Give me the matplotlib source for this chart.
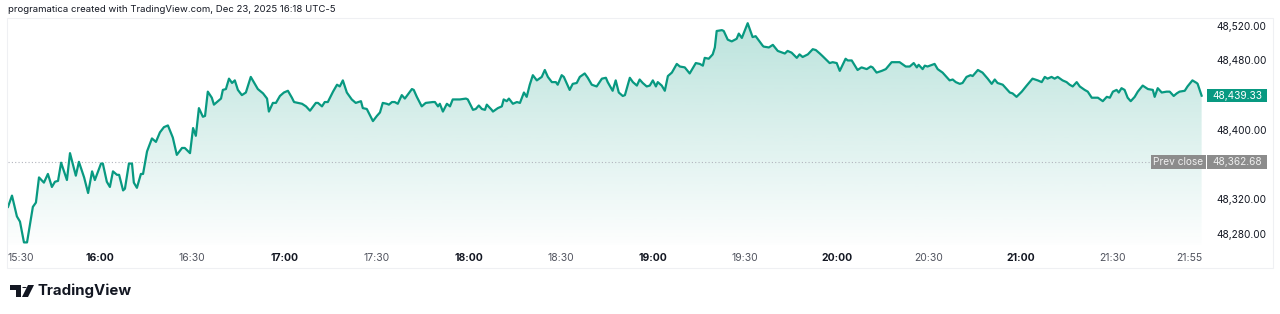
import numpy as np
import matplotlib.pyplot as plt
from matplotlib.patches import Rectangle, Polygon, Circle

plt.rcParams['font.family'] = ['Inter', 'DejaVu Sans']

# minutes after 15:30 and index level
minutes = [
    0, 1.3, 2.9, 3.9, 5.2, 6.2, 8.1, 9.1, 10.1, 11.7, 13.0, 14.3, 15.3, 16.3, 17.3, 19.2, 20.2, 22.1, 23.1, 24.8,
    26.1, 27.4, 28.3, 30.3, 30.9, 32.2, 33.2, 34.2, 35.5, 36.2, 37.5, 38.1, 39.4, 40.4, 41.0, 42.0, 43.3, 44.0, 45.3, 46.9,
    48.2, 49.5, 50.8, 52.1, 53.7, 55.0, 56.7, 57.6, 59.3, 60.3, 61.2, 62.2, 63.5, 64.2, 65.1, 66.4, 67.1, 68.4, 69.4, 70.0,
    71.0, 72.0, 73.0, 73.9, 74.9, 76.2, 77.5, 79.1, 80.1, 81.4, 83.1, 84.4, 85.0, 86.3, 87.3, 88.6, 89.9, 91.2, 92.5, 93.2,
    94.5, 95.8, 97.1, 98.4, 100.3, 101.0, 102.3, 103.2, 104.2, 105.9, 107.2, 108.1, 109.1, 110.4, 112.0, 113.3, 115.0, 115.6, 116.9, 118.9,
    120.2, 121.2, 122.1, 123.4, 124.1, 125.1, 126.0, 127.0, 128.3, 129.3, 131.6, 132.2, 133.2, 134.8, 136.1, 138.4, 139.1, 140.1, 140.7, 141.7,
    143.0, 144.0, 144.9, 147.2, 149.2, 149.8, 151.5, 152.4, 153.4, 154.4, 155.4, 156.0, 157.6, 158.0, 159.6, 160.9, 161.5, 162.5, 163.2, 164.5,
    165.8, 166.8, 168.1, 169.0, 170.0, 171.0, 172.3, 173.9, 174.9, 175.9, 177.2, 178.5, 179.1, 180.4, 181.1, 183.0, 184.0, 185.3, 186.3, 187.9,
    188.9, 190.2, 191.8, 193.5, 194.8, 195.4, 197.0, 198.0, 199.0, 200.3, 201.0, 202.6, 203.6, 204.9, 205.8, 206.8, 208.1, 209.1, 210.1, 211.1,
    211.7, 213.0, 214.0, 215.0, 216.3, 217.9, 218.9, 220.5, 222.1, 224.1, 225.4, 226.4, 227.0, 228.3, 229.6, 230.3, 230.9, 232.6, 233.2, 234.5,
    235.8, 237.4, 238.1, 239.1, 241.0, 242.6, 243.6, 245.9, 246.2, 247.9, 249.2, 250.8, 252.4, 253.1, 254.0, 255.3, 257.0, 257.9, 258.9, 260.6,
    262.2, 263.2, 264.5, 265.4, 267.7, 268.7, 270.0, 271.0, 272.9, 273.6, 274.9, 276.8, 278.1, 279.8, 281.1, 281.7, 283.0, 284.7, 286.0, 287.9,
    289.6, 290.5, 292.5, 293.8, 295.1, 296.1, 296.7, 298.0, 298.7, 299.6, 301.9, 302.9, 304.5, 306.8, 307.8, 308.8, 310.1, 311.0, 312.3, 313.6,
    314.3, 316.0, 317.5, 319.2, 320.5, 321.5, 322.4, 324.1, 326.4, 327.3, 328.6, 330.3, 331.9, 333.8, 335.5, 336.8, 337.8, 338.7, 340.0, 341.0,
    342.0, 343.6, 344.9, 345.9, 346.9, 348.2, 349.2, 350.8, 351.8, 353.1, 355.1, 356.7, 358.0, 359.0, 360.0, 361.2, 361.9, 362.8, 363.8, 364.8,
    365.8, 367.1, 368.1, 369.7, 371.4, 373.0, 373.6, 374.6, 375.9, 377.5, 378.5, 379.8, 380.8, 381.7, 383.4, 384.3, 385.9, 387.3, 387.6, 388.9,
]
prices = [
    48311, 48324, 48300, 48294, 48270, 48270, 48311, 48316, 48345, 48339, 48349, 48334, 48340, 48341, 48362, 48342, 48373, 48347, 48363, 48345,
    48327, 48352, 48342, 48361, 48361, 48340, 48334, 48352, 48348, 48348, 48330, 48332, 48361, 48361, 48339, 48333, 48349, 48349, 48375, 48390,
    48386, 48397, 48403, 48405, 48391, 48371, 48379, 48379, 48373, 48402, 48393, 48425, 48415, 48416, 48444, 48437, 48429, 48433, 48436, 48446,
    48447, 48459, 48454, 48457, 48446, 48440, 48443, 48461, 48455, 48447, 48442, 48436, 48421, 48431, 48431, 48439, 48443, 48445, 48437, 48432,
    48431, 48430, 48427, 48422, 48431, 48431, 48427, 48432, 48432, 48444, 48452, 48450, 48457, 48443, 48435, 48431, 48433, 48425, 48424, 48410,
    48416, 48420, 48431, 48430, 48429, 48432, 48432, 48430, 48440, 48436, 48447, 48446, 48438, 48427, 48431, 48432, 48432, 48427, 48430, 48421,
    48430, 48427, 48435, 48435, 48436, 48435, 48423, 48424, 48428, 48424, 48423, 48429, 48423, 48421, 48425, 48427, 48435, 48433, 48436, 48430,
    48432, 48431, 48443, 48438, 48452, 48463, 48457, 48461, 48469, 48461, 48455, 48455, 48452, 48463, 48461, 48446, 48453, 48454, 48461, 48465,
    48460, 48452, 48450, 48459, 48460, 48455, 48445, 48457, 48443, 48439, 48440, 48460, 48455, 48451, 48458, 48454, 48450, 48451, 48457, 48450,
    48455, 48451, 48445, 48462, 48466, 48476, 48473, 48472, 48465, 48477, 48476, 48474, 48483, 48482, 48487, 48495, 48514, 48515, 48514, 48504,
    48502, 48505, 48511, 48506, 48523, 48507, 48508, 48497, 48496, 48495, 48498, 48491, 48489, 48488, 48491, 48489, 48483, 48487, 48484, 48487,
    48493, 48492, 48488, 48485, 48477, 48478, 48477, 48468, 48482, 48480, 48480, 48469, 48472, 48470, 48473, 48472, 48466, 48468, 48470, 48478,
    48478, 48478, 48473, 48473, 48477, 48472, 48475, 48470, 48474, 48473, 48476, 48470, 48466, 48457, 48458, 48455, 48453, 48454, 48461, 48463,
    48462, 48469, 48466, 48459, 48453, 48458, 48454, 48452, 48443, 48442, 48438, 48444, 48451, 48459, 48457, 48455, 48461, 48459, 48461, 48459,
    48461, 48457, 48455, 48452, 48450, 48455, 48450, 48446, 48444, 48437, 48437, 48433, 48438, 48437, 48444, 48446, 48443, 48448, 48446, 48437,
    48433, 48438, 48444, 48451, 48447, 48446, 48438, 48448, 48443, 48444, 48444, 48439, 48442, 48444, 48445, 48450, 48457, 48454, 48453, 48439.33,
]

prev_close = 48362.68
last_price = 48439.33
price_ticks = [48280, 48320, 48400, 48480, 48520]
time_ticks = [0, 30, 60, 90, 120, 150, 180, 210, 240, 270, 300, 330, 360, 385]
time_labels = ['15:30', '16:00', '16:30', '17:00', '17:30', '18:00', '18:30',
               '19:00', '19:30', '20:00', '20:30', '21:00', '21:30', '21:55']

GREEN = '#089981'
W, H = 1280, 314
fig = plt.figure(figsize=(W / 100, H / 100), dpi=100)
fig.patch.set_facecolor('white')

def fx(px):
    return px / W

def fy(py):
    return 1 - py / H

ax_bottom, ax_top = fy(245), fy(18)
ax = fig.add_axes([fx(8), ax_bottom, fx(1205) - fx(8), ax_top - ax_bottom])
ylo, yhi = 48267, 48529
ax.set_xlim(0, 390)
ax.set_ylim(ylo, yhi)

def vy(v):
    # price -> figure fraction
    return ax_bottom + (v - ylo) / (yhi - ylo) * (ax_top - ax_bottom)

# gradient area under the line
fill = ax.fill_between(minutes, prices, ylo, color='none', lw=0)
grad = np.linspace(0, 1, 256)
rgba = np.zeros((256, 1, 4))
rgba[..., 0] = 8 / 255
rgba[..., 1] = 153 / 255
rgba[..., 2] = 129 / 255
rgba[:, 0, 3] = 0.01 + 0.27 * grad
im = ax.imshow(rgba, extent=[0, 390, ylo, yhi], origin='lower', aspect='auto', zorder=1)
im.set_clip_path(fill.get_paths()[0], transform=ax.transData)

ax.plot(minutes, prices, color=GREEN, lw=1.6, zorder=3, solid_joinstyle='round')
ax.axhline(prev_close, color='#b2b5be', ls=(0, (1, 2)), lw=0.8, zorder=2)

for s in ax.spines.values():
    s.set_visible(False)

ax.yaxis.tick_right()
ax.set_yticks(price_ticks)
ax.set_yticklabels([f'{v:,.2f}' for v in price_ticks])
ax.tick_params(axis='y', length=0, pad=8, labelsize=7.3, labelcolor='#131722')
ax.set_xticks(time_ticks)
ax.set_xticklabels(time_labels)
ax.tick_params(axis='x', length=0, pad=6, labelsize=7.5)
for lbl, t in zip(ax.get_xticklabels(), time_labels):
    if t.endswith(':00'):
        lbl.set_fontweight('bold')
        lbl.set_color('#131722')
    else:
        lbl.set_color('#50535e')
ax.get_xticklabels()[0].set_horizontalalignment('left')

# price labels on the scale
def tag(x0, x1, v, text, fc, tc):
    h = 13.5 / H
    fig.add_artist(Rectangle((fx(x0), vy(v) - h / 2), fx(x1) - fx(x0), h,
                             transform=fig.transFigure, fc=fc, ec='none'))
    fig.text((fx(x0) + fx(x1)) / 2, vy(v), text, ha='center', va='center',
             color=tc, fontsize=7.3)

tag(1207, 1267, last_price, f'{last_price:,.2f}', GREEN, 'white')
tag(1151, 1206, prev_close, 'Prev close', '#8c8c8c', '#eeeeee')
tag(1207, 1267, prev_close, f'{prev_close:,.2f}', '#8c8c8c', '#eeeeee')

# frame around the chart
fig.add_artist(Rectangle((fx(7), fy(268)), fx(1273) - fx(7), fy(18) - fy(268),
                         transform=fig.transFigure, fill=False, ec='#eff0f3', lw=0.8))

fig.text(fx(8), fy(10), 'programatica created with TradingView.com, Dec 23, 2025 16:18 UTC-5',
         ha='left', va='center', fontsize=6.9, color='#131722')

# TradingView logo
def P(pts, **kw):
    fig.add_artist(Polygon([(fx(a), fy(b)) for a, b in pts], closed=True,
                           transform=fig.transFigure, **kw))

P([(10, 285), (21, 285), (21, 297), (16, 297), (16, 290), (10, 290)], fc='#131722', ec='none')
fig.add_artist(Circle((fx(24.5), fy(287.5)), 2.3 / W, transform=fig.transFigure, fc='#131722', ec='none'))
P([(28, 285), (34, 285), (28, 297), (22, 297)], fc='#131722', ec='none')
fig.text(fx(37), fy(291), 'TradingView', ha='left', va='center', fontsize=10.8,
         fontweight='bold', color='#131722')

fig.savefig('out.png', dpi=100, facecolor='white')
